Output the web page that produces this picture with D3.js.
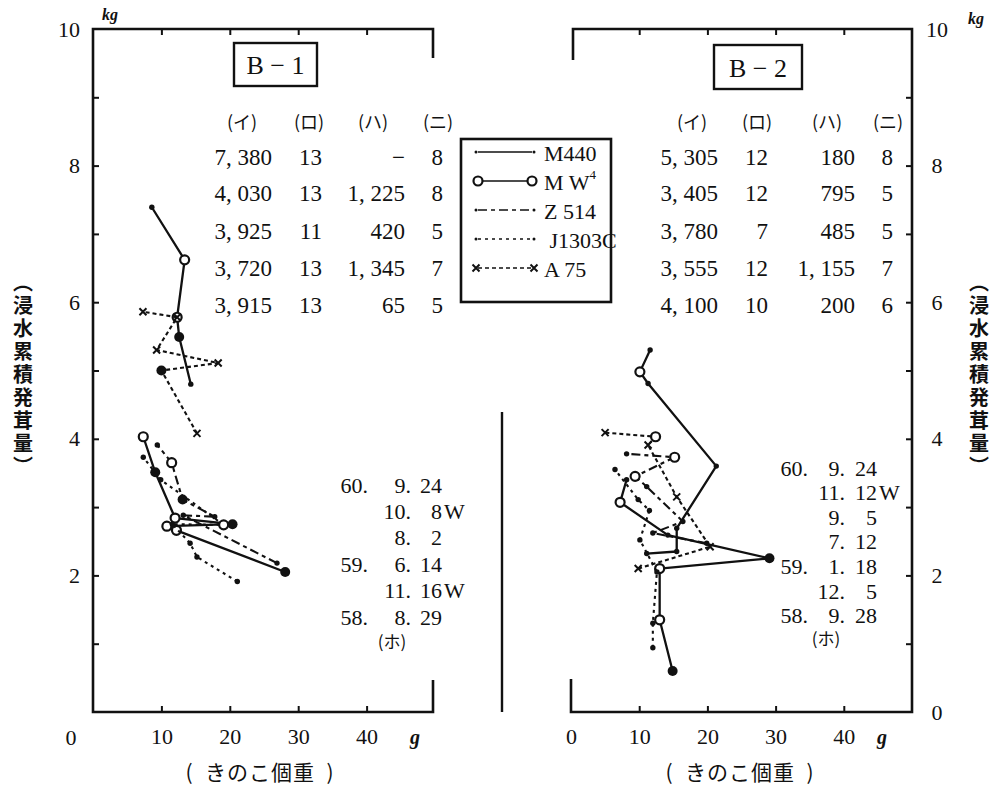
<!DOCTYPE html>
<html>
<head>
<meta charset="UTF-8">
<style>
  body { margin: 0; background: #ffffff; }
  svg { display: block; }
  .num { font-family: "Liberation Serif", "DejaVu Serif", serif; fill: #111; }
  .jp { font-family: "Noto Sans CJK JP", sans-serif; fill: #111; }
</style>
</head>
<body>
<svg id="chart" width="993" height="786"></svg>
<script src="https://cdnjs.cloudflare.com/ajax/libs/d3/7.8.5/d3.min.js"></script>
<script>
// ---- data (x = きのこ個重 g, y = 浸水累積発茸量 kg, k: 0 dot, 1 W circle, 2 heavy dot)
var seriesNames = ["M440", "MW4", "Z514", "J1303C", "A75"];

var b1M440   = [[14.3,4.80,0],[12.6,5.49,2],[12.3,5.78,1],[13.4,6.62,1],[8.6,7.39,0]];
var b1MW4    = [[28.1,2.05,2],[12.2,2.66,1],[10.8,2.72,1],[20.4,2.75,2],[12.0,2.84,1],[9.1,3.51,2],[7.35,4.03,1]];
var b1Z514   = [[26.9,2.18,0],[13.2,2.88,0],[17.8,2.86,0],[13.1,3.11,2],[11.5,3.65,1],[9.4,3.91,0]];
var b1J1303C = [[21.1,1.91,0],[15.2,2.27,0],[14.2,2.47,0],[11.6,2.75,0],[19.1,2.74,1],[9.9,3.40,0],[7.35,3.73,0]];
var b1A75    = [[15.2,4.08,0],[10.0,5.00,2],[18.3,5.11,0],[9.3,5.30,0],[12.3,5.78,0],[7.3,5.86,0]];

var b2M440   = [[11.1,2.32,0],[15.5,2.35,0],[15.5,2.69,0],[21.3,3.60,0],[11.3,4.81,0],[10.1,4.98,1],[11.6,5.30,0]];
var b2MW4    = [[14.9,0.60,2],[13.0,1.35,1],[13.0,2.10,1],[29.1,2.25,2],[14.2,2.59,0],[7.2,3.07,1],[8.15,3.40,0]];
var b2Z514   = [[19.9,2.47,0],[12.0,2.62,0],[16.4,2.79,0],[11.1,3.30,0],[9.4,3.45,1],[15.2,3.73,1],[8.15,3.78,0]];
var b2J1303C = [[12.0,0.94,0],[12.0,1.30,0],[12.6,2.05,0],[10.1,2.52,0],[11.5,2.95,0],[9.85,3.11,0],[6.45,3.55,0]];
var b2A75    = [[9.85,2.10,0],[20.4,2.42,0],[15.5,3.15,0],[11.3,3.91,0],[12.4,4.03,1],[5.0,4.09,0]];

var tableHead = ["(イ)", "(ロ)", "(ハ)", "(ニ)"];
var b1Table = [["7, 380","13","−","8"],["4, 030","13","1, 225","8"],["3, 925","11","420","5"],["3, 720","13","1, 345","7"],["3, 915","13","65","5"]];
var b2Table = [["5, 305","12","180","8"],["3, 405","12","795","5"],["3, 780","7","485","5"],["3, 555","12","1, 155","7"],["4, 100","10","200","6"]];

var b1Dates = [["60.","9.","24",""],["","10.","8","W"],["","8.","2",""],["59.","6.","14",""],["","11.","16","W"],["58.","8.","29",""]];
var b2Dates = [["60.","9.","24",""],["","11.","12","W"],["","9.","5",""],["","7.","12",""],["59.","1.","18",""],["","12.","5",""],["58.","9.","28",""]];

var xTicks = [10, 20, 30, 40];
var yLabelTicks = [2, 4, 6, 8, 10];
var yMinorTicks = [1, 2, 3, 4, 5, 6, 7, 8, 9];

var svg = d3.select("#chart");

var y = d3.scaleLinear().domain([0, 10]).range([712, 29]);
var x1 = d3.scaleLinear().domain([0, 50]).range([93, 435]);
var x2 = d3.scaleLinear().domain([0, 50]).range([571, 912]);

var styles = {
    "M440":   {dash: null, width: 2.3},
    "MW4":    {dash: null, width: 2.3},
    "Z514":   {dash: "9,4,4,4", width: 2.1},
    "J1303C": {dash: "3,4", width: 2.1},
    "A75":    {dash: "4,3", width: 2.1}
};

function frame(path) {
    svg.append("path").attr("d", path)
        .attr("fill", "none").attr("stroke", "#111").attr("stroke-width", 2.6);
}

// axes ticks (labels drawn by separate axes)
function tickAxis(axis, tx, ty) {
    var g = svg.append("g").attr("transform", "translate(" + tx + "," + ty + ")").call(axis);
    g.select(".domain").remove();
    g.selectAll(".tick line").attr("stroke", "#111").attr("stroke-width", 2);
    g.selectAll("text").remove();
    return g;
}
function labelAxis(axis, tx, ty, anchor) {
    var g = svg.append("g").attr("transform", "translate(" + tx + "," + ty + ")").call(axis);
    g.select(".domain").remove();
    g.selectAll(".tick line").remove();
    g.selectAll("text").attr("class", "num").style("font-size", "22px")
        .attr("font-family", null).attr("fill", "#111");
    if (anchor) g.selectAll("text").attr("text-anchor", anchor);
    return g;
}

// ---- left panel B-1
frame("M433,58 V29 H93 V712 H433 V680");
tickAxis(d3.axisLeft(y).tickValues(yMinorTicks).tickSizeInner(-6).tickSizeOuter(0), 93, 0);
tickAxis(d3.axisTop(x1).tickValues(xTicks).tickSizeInner(-6).tickSizeOuter(0), 0, 29);
tickAxis(d3.axisBottom(x1).tickValues(xTicks).tickSizeInner(-6).tickSizeOuter(0), 0, 712);
labelAxis(d3.axisLeft(y).tickValues(yLabelTicks).tickSize(0).tickPadding(13), 93, 0);
labelAxis(d3.axisBottom(x1).tickValues(xTicks).tickSize(0).tickPadding(16), 0, 712);

// ---- right panel B-2
frame("M573,60 V29 H912 V712 H571 V679");
tickAxis(d3.axisRight(y).tickValues(yMinorTicks).tickSizeInner(-6).tickSizeOuter(0), 912, 0);
tickAxis(d3.axisTop(x2).tickValues(xTicks).tickSizeInner(-6).tickSizeOuter(0), 0, 29);
tickAxis(d3.axisBottom(x2).tickValues(xTicks).tickSizeInner(-6).tickSizeOuter(0), 0, 712);
labelAxis(d3.axisRight(y).tickValues([0].concat(yLabelTicks)).tickSize(0).tickPadding(25), 912, 0, "middle");
labelAxis(d3.axisBottom(x2).tickValues([0].concat(xTicks)).tickSize(0).tickPadding(16), 0, 712);

// stray pieces of the layout
svg.append("text").attr("class", "num").attr("x", 71).attr("y", 737)
    .attr("text-anchor", "middle").attr("dominant-baseline", "central").style("font-size", "22px").text("0");
svg.append("line").attr("x1", 502).attr("x2", 502).attr("y1", 412).attr("y2", 712)
    .attr("stroke", "#111").attr("stroke-width", 2.4);

function unitText(tx, ty, t, size) {
    svg.append("text").attr("class", "num").attr("x", tx).attr("y", ty)
        .attr("text-anchor", "middle").attr("dominant-baseline", "central")
        .style("font-size", size + "px").style("font-style", "italic").style("font-weight", "bold").text(t);
}
unitText(110, 14, "kg", 16);
unitText(976, 18, "kg", 16);
unitText(415, 737, "g", 20);
unitText(882, 737, "g", 20);

// axis titles
function xTitle(cx) {
    svg.append("text").attr("class", "jp").attr("x", cx).attr("y", 771)
        .attr("text-anchor", "middle").attr("dominant-baseline", "central")
        .style("font-size", "21px").style("letter-spacing", "1px")
        .attr("xml:space", "preserve").text("(  きのこ個重  )");
}
xTitle(260);
xTitle(740);

function yTitle(cx) {
    svg.append("text").attr("class", "jp").attr("x", cx).attr("y", 272)
        .style("writing-mode", "vertical-rl").style("letter-spacing", "3px")
        .style("font-size", "20px").style("font-weight", "bold").text("（浸水累積発茸量）");
}
yTitle(23);
yTitle(979);

// title boxes
function titleBox(bx, by, bw, bh, t) {
    svg.append("rect").attr("x", bx).attr("y", by).attr("width", bw).attr("height", bh)
        .attr("fill", "none").attr("stroke", "#111").attr("stroke-width", 2.4);
    svg.append("text").attr("class", "num").attr("x", bx + bw / 2).attr("y", by + bh / 2 + 1)
        .attr("text-anchor", "middle").attr("dominant-baseline", "central")
        .style("font-size", "26px").attr("xml:space", "preserve").text(t);
}
titleBox(234, 43, 83, 43, "B − 1");
titleBox(714, 45, 88, 44, "B − 2");

// tables
var rowY = [157, 193, 231, 268, 305];
function table(rows, heads, headX, colRight) {
    var g = svg.append("g");
    g.selectAll(".head").data(heads).join("text").attr("class", "jp")
        .attr("x", function(d, i) { return headX[i]; }).attr("y", 121)
        .attr("text-anchor", "middle").attr("dominant-baseline", "central")
        .style("font-size", "18px").text(function(d) { return d; });
    rows.forEach(function(r, ri) {
        g.selectAll(null).data(r).join("text").attr("class", "num")
            .attr("x", function(d, i) { return colRight[i]; }).attr("y", rowY[ri])
            .attr("text-anchor", "end").attr("dominant-baseline", "central")
            .style("font-size", "23px").attr("xml:space", "preserve").text(function(d) { return d; });
    });
}
table(b1Table, tableHead, [242, 309, 373, 438], [272, 322, 405, 443]);
table(b2Table, tableHead, [692, 757, 827, 888], [718, 768, 855, 893]);

// date columns
function dates(rows, y0, dy, cols, hoX) {
    var g = svg.append("g");
    rows.forEach(function(r, ri) {
        var yy = y0 + ri * dy;
        [0, 1, 2].forEach(function(ci) {
            g.append("text").attr("class", "num").attr("x", cols[ci]).attr("y", yy)
                .attr("text-anchor", "end").attr("dominant-baseline", "central")
                .style("font-size", "22px").text(r[ci]);
        });
        if (r[3]) g.append("text").attr("class", "num").attr("x", cols[2] + 2).attr("y", yy)
            .attr("dominant-baseline", "central").style("font-size", "22px").text(r[3]);
    });
    g.append("text").attr("class", "jp").attr("x", hoX).attr("y", y0 + rows.length * dy - 3)
        .attr("text-anchor", "middle").attr("dominant-baseline", "central")
        .style("font-size", "17px").text("(ホ)");
}
dates(b1Dates, 485, 26.4, [368, 411, 442], 392);
dates(b2Dates, 468, 24.6, [808, 845, 877], 826);

// series
var line1 = d3.line().x(function(d) { return x1(d[0]); }).y(function(d) { return y(d[1]); });
var line2 = d3.line().x(function(d) { return x2(d[0]); }).y(function(d) { return y(d[1]); });

function drawMarker(g, px, py, k, name) {
    if (k === 1) {
        g.append("circle").attr("cx", px).attr("cy", py).attr("r", 4.5)
            .attr("fill", "#fff").attr("stroke", "#111").attr("stroke-width", 2.2);
    } else if (k === 2) {
        g.append("circle").attr("cx", px).attr("cy", py).attr("r", 5).attr("fill", "#111");
    } else if (name === "A75") {
        g.append("path").attr("d", "M" + (px - 3.5) + "," + (py - 3.5) + "l7,7m0,-7l-7,7")
            .attr("stroke", "#111").attr("stroke-width", 2);
    } else {
        g.append("circle").attr("cx", px).attr("cy", py).attr("r", 2.7).attr("fill", "#111");
    }
}

function drawSeries(list, xs, ln) {
    list.forEach(function(s, i) {
        var name = seriesNames[i], st = styles[name];
        var g = svg.append("g");
        g.append("path").datum(s).attr("d", ln).attr("fill", "none")
            .attr("stroke", "#111").attr("stroke-width", st.width)
            .attr("stroke-dasharray", st.dash).attr("stroke-linejoin", "round");
        s.forEach(function(p) { drawMarker(g, xs(p[0]), y(p[1]), p[2], name); });
    });
}
drawSeries([b1M440, b1MW4, b1Z514, b1J1303C, b1A75], x1, line1);
drawSeries([b2M440, b2MW4, b2Z514, b2J1303C, b2A75], x2, line2);

// legend
var lg = svg.append("g");
lg.append("rect").attr("x", 461).attr("y", 139).attr("width", 150).attr("height", 163)
    .attr("fill", "#fff").attr("stroke", "#111").attr("stroke-width", 2.6);
var legendY = d3.scalePoint().domain(seriesNames).range([152, 268]);
var legendLabels = {"M440": "M440", "MW4": "M W", "Z514": "Z 514", "J1303C": " J1303C", "A75": "A 75"};
seriesNames.forEach(function(name) {
    var ly = legendY(name), st = styles[name];
    lg.append("line").attr("x1", 478).attr("x2", 532).attr("y1", ly).attr("y2", ly)
        .attr("stroke", "#111").attr("stroke-width", 1.6).attr("stroke-dasharray", st.dash);
    if (name === "MW4") {
        drawMarker(lg, 478, ly, 1, name); drawMarker(lg, 532, ly, 1, name);
    } else if (name === "A75") {
        drawMarker(lg, 476, ly, 0, name); drawMarker(lg, 534, ly, 0, name);
    } else {
        lg.append("circle").attr("cx", 476).attr("cy", ly).attr("r", 1.5).attr("fill", "#111");
        lg.append("circle").attr("cx", 534).attr("cy", ly).attr("r", 1.5).attr("fill", "#111");
    }
    var t = lg.append("text").attr("class", "num").attr("x", 544).attr("y", ly + 1)
        .attr("dominant-baseline", "central").style("font-size", "22px")
        .attr("xml:space", "preserve").text(legendLabels[name]);
    if (name === "MW4") t.append("tspan").attr("dy", -8).style("font-size", "13px").text("4");
});
</script>
</body>
</html>
